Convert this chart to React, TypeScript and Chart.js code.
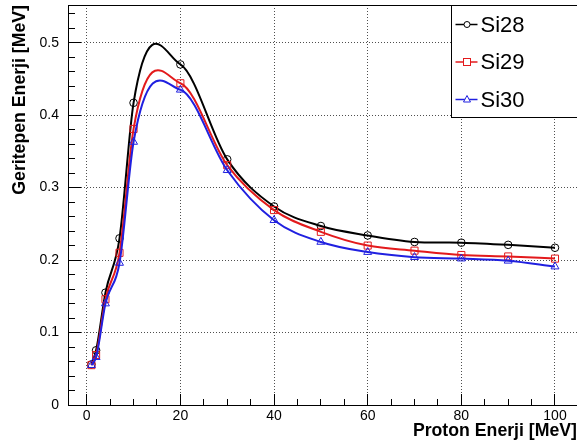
import React, { useEffect, useRef } from 'react';
import { Chart, registerables } from 'chart.js';

Chart.register(...registerables);

// ---------- data ----------
const X_MEV = [1, 2, 4, 7, 10, 20, 30, 40, 50, 60, 70, 80, 90, 100];
const SI28 = [0.056, 0.0755, 0.155, 0.230, 0.417, 0.470, 0.339, 0.274, 0.247, 0.234, 0.225, 0.224, 0.221, 0.217];
const SI29 = [0.055, 0.069, 0.146, 0.210, 0.381, 0.444, 0.331, 0.269, 0.239, 0.220, 0.213, 0.207, 0.205, 0.202];
const SI30 = [0.055, 0.066, 0.140, 0.196, 0.363, 0.435, 0.324, 0.255, 0.225, 0.211, 0.204, 0.202, 0.199, 0.191];
const SERIES_LABELS = ['Si28', 'Si29', 'Si30'];

const X_MAJOR_TICKS = [0, 20, 40, 60, 80, 100];
const X_TICK_LABELS = ['0', '20', '40', '60', '80', '100'];
const Y_MAJOR_TICKS = [0, 0.1, 0.2, 0.3, 0.4, 0.5];
const Y_TICK_LABELS = ['0', '0.1', '0.2', '0.3', '0.4', '0.5'];
const X_MINOR_STEP = 5;
const Y_MINOR_STEP = 0.02;

const X_TITLE = 'Proton Enerji [MeV]';
const Y_TITLE = 'Geritepen Enerji [MeV]';

const X_MIN = -4;
const X_MAX = 104.7;
const Y_MIN = 0;
const Y_MAX = 0.552;

// ---------- styles ----------
const FONT = "'Liberation Sans', Arial, Helvetica, sans-serif";
const COLORS = ['#000000', '#e31a1c', '#2020e0'];
const POINT_STYLES = ['circle', 'rect', 'triangle'];
const POINT_RADII = [3.8, 5, 4.6];
const SMOOTH_MIX = 0.7; // weight of 3-point (parabolic) slope vs Catmull-Rom slope

function minorTicks(min: number, max: number, step: number) {
  const out: number[] = [];
  const start = Math.ceil(min / step - 1e-9);
  for (let k = start; k * step <= max + 1e-9; k++) out.push(+(k * step).toFixed(6));
  return out;
}

// slopes dy/dx at each knot (data space) for a smooth Hermite curve
function curveSlopes(xs: number[], ys: number[]) {
  const n = xs.length;
  const h: number[] = [];
  const d: number[] = [];
  for (let i = 0; i < n - 1; i++) {
    h.push(xs[i + 1] - xs[i]);
    d.push((ys[i + 1] - ys[i]) / h[i]);
  }
  const m: number[] = [];
  for (let i = 0; i < n; i++) {
    if (i === 0) { m.push(d[0]); continue; }
    if (i === n - 1) { m.push(d[n - 2]); continue; }
    const parab = (h[i - 1] * d[i] + h[i] * d[i - 1]) / (h[i - 1] + h[i]);
    const cr = (ys[i + 1] - ys[i - 1]) / (xs[i + 1] - xs[i - 1]);
    m.push(SMOOTH_MIX * parab + (1 - SMOOTH_MIX) * cr);
  }
  return m;
}

const splinePlugin = {
  id: 'xSpline',
  beforeDatasetsDraw(chart: any) {
    chart.data.datasets.forEach((ds: any, di: number) => {
      const meta = chart.getDatasetMeta(di);
      const line = meta.dataset;
      if (!line) return;
      if (typeof line.updateControlPoints === 'function') line.updateControlPoints(chart.chartArea, 'x');
      const pts = meta.data;
      const xs = ds.data.map((p: any) => p.x);
      const ys = ds.data.map((p: any) => p.y);
      const m = curveSlopes(xs, ys);
      const xS = meta.xScale, yS = meta.yScale;
      const n = xs.length;
      for (let i = 0; i < n; i++) {
        const p = pts[i];
        if (i < n - 1) {
          const hh = xs[i + 1] - xs[i];
          p.cp2x = xS.getPixelForValue(xs[i] + hh / 3);
          p.cp2y = yS.getPixelForValue(ys[i] + (m[i] * hh) / 3);
        } else { p.cp2x = p.x; p.cp2y = p.y; }
        if (i > 0) {
          const hh = xs[i] - xs[i - 1];
          p.cp1x = xS.getPixelForValue(xs[i] - hh / 3);
          p.cp1y = yS.getPixelForValue(ys[i] - (m[i] * hh) / 3);
        } else { p.cp1x = p.x; p.cp1y = p.y; }
      }
      line._pointsUpdated = true;
      line._path = undefined;
    });
  },
};

const framePlugin = {
  id: 'frameLegend',
  afterDraw(chart: any) {
    const { ctx, chartArea } = chart;
    ctx.save();
    ctx.strokeStyle = '#000';
    ctx.lineWidth = 1;
    ctx.beginPath();
    ctx.moveTo(chartArea.left, Math.round(chartArea.top) + 0.5);
    ctx.lineTo(chartArea.right, Math.round(chartArea.top) + 0.5);
    ctx.stroke();

    // legend box
    const bx = Math.round(chartArea.right - 126) + 0.5;
    const by = Math.round(chartArea.top) + 0.5;
    const bw = 140;
    const bh = 112;
    ctx.fillStyle = '#ffffff';
    ctx.fillRect(bx, by, bw, bh);
    ctx.strokeRect(bx, by, bw, bh);

    chart.data.datasets.forEach((ds: any, i: number) => {
      const cy = by + 19 + i * 37.5;
      ctx.strokeStyle = ds.borderColor;
      ctx.lineWidth = 1.5;
      ctx.beginPath();
      ctx.moveTo(bx + 4, cy);
      ctx.lineTo(bx + 26, cy);
      ctx.stroke();
      ctx.save();
      ctx.fillStyle = '#ffffff';
      ctx.lineWidth = 1;
      ctx.strokeStyle = ds.borderColor;
      const mx = bx + 15.5;
      if (ds.pointStyle === 'circle') {
        ctx.beginPath(); ctx.arc(mx, cy, 3, 0, Math.PI * 2); ctx.fill(); ctx.stroke();
      } else if (ds.pointStyle === 'rect') {
        ctx.fillRect(mx - 3.5, cy - 3.5, 7, 7); ctx.strokeRect(mx - 3.5, cy - 3.5, 7, 7);
      } else {
        ctx.beginPath(); ctx.moveTo(mx, cy - 4); ctx.lineTo(mx + 3.5, cy + 2.5); ctx.lineTo(mx - 3.5, cy + 2.5); ctx.closePath(); ctx.fill(); ctx.stroke();
      }
      ctx.restore();
      ctx.fillStyle = '#000';
      ctx.font = `22px ${FONT}`;
      ctx.textAlign = 'left';
      ctx.textBaseline = 'middle';
      ctx.fillText(ds.label, bx + 29, cy + 1);
    });
    ctx.restore();
  },
};

export default function App() {
  const ref = useRef<HTMLCanvasElement>(null);
  useEffect(() => {
    document.body.style.margin = '0';
    const canvas = ref.current;
    if (!canvas) return;
    const seriesValues = [SI28, SI29, SI30];
    const datasets = seriesValues.map((vals, i) => ({
      label: SERIES_LABELS[i],
      data: X_MEV.map((x, k) => ({ x, y: vals[k] })),
      borderColor: COLORS[i],
      backgroundColor: 'rgba(0,0,0,0)',
      borderWidth: 2,
      tension: 0.4,
      pointStyle: POINT_STYLES[i],
      pointRadius: POINT_RADII[i],
      pointBorderWidth: 1,
      pointBorderColor: COLORS[i],
      pointBackgroundColor: 'rgba(0,0,0,0)',
      fill: false,
      order: 3 - i,
      xAxisID: 'x',
      yAxisID: 'y',
    }));
    const xMinor = minorTicks(X_MIN, X_MAX, X_MINOR_STEP);
    const yMinor = minorTicks(Y_MIN, Y_MAX, Y_MINOR_STEP);
    const noPadH = (s: any, hgt: number) => { s.height = hgt; s.paddingLeft = 0; s.paddingRight = 0; s.paddingTop = 0; s.paddingBottom = 0; };
    const noPadV = (s: any, w: number) => { s.width = w; s.paddingLeft = 0; s.paddingRight = 0; s.paddingTop = 0; s.paddingBottom = 0; };
    const chart = new Chart(canvas, {
      type: 'line',
      data: { datasets },
      plugins: [splinePlugin, framePlugin],
      options: {
        responsive: false,
        animation: false,
        devicePixelRatio: 1,
        layout: { autoPadding: false, padding: { top: 5, right: 0, left: 0, bottom: 0 } },
        plugins: { legend: { display: false }, tooltip: { enabled: false } },
        scales: {
          x: {
            type: 'linear', axis: 'x', position: 'bottom', weight: 1,
            min: X_MIN, max: X_MAX,
            afterBuildTicks: (s: any) => { s.ticks = X_MAJOR_TICKS.map((v) => ({ value: v })); },
            afterFit: (s: any) => noPadH(s, 43),
            grid: { color: 'rgba(60,60,60,0.9)', lineWidth: 1, drawTicks: true, tickLength: -11, tickColor: '#000', tickWidth: 1, tickBorderDash: [] },
            border: { display: true, color: '#000', width: 1, dash: [1, 2] },
            ticks: {
              color: '#000', padding: 14, maxRotation: 0, autoSkip: false,
              font: { family: FONT, size: 14 },
              callback: (v: any) => { const k = X_MAJOR_TICKS.indexOf(v); return k >= 0 ? X_TICK_LABELS[k] : ''; },
            },
            title: { display: true, text: X_TITLE, align: 'end', color: '#000', font: { family: FONT, size: 17.7, weight: 'bold' }, padding: { top: 0, bottom: 6 } },
          },
          xMinor: {
            type: 'linear', axis: 'x', position: 'bottom', weight: 0,
            min: X_MIN, max: X_MAX,
            afterBuildTicks: (s: any) => { s.ticks = xMinor.map((v) => ({ value: v })); },
            afterFit: (s: any) => noPadH(s, 0),
            grid: { drawOnChartArea: false, drawTicks: true, tickLength: -6, tickColor: '#000', tickWidth: 1 },
            border: { display: false },
            ticks: { display: false },
          },
          y: {
            type: 'linear', axis: 'y', position: 'left', weight: 1,
            min: Y_MIN, max: Y_MAX,
            afterBuildTicks: (s: any) => { s.ticks = Y_MAJOR_TICKS.map((v) => ({ value: v })); },
            afterFit: (s: any) => noPadV(s, 68),
            grid: { color: 'rgba(60,60,60,0.9)', lineWidth: 1, drawTicks: true, tickLength: -13, tickColor: '#000', tickWidth: 1, tickBorderDash: [] },
            border: { display: true, color: '#000', width: 1, dash: [1, 2] },
            ticks: {
              color: '#000', padding: 22, autoSkip: false,
              font: { family: FONT, size: 14 },
              callback: (v: any) => { const k = Y_MAJOR_TICKS.findIndex((t) => Math.abs(t - v) < 1e-9); return k >= 0 ? Y_TICK_LABELS[k] : ''; },
            },
            title: { display: true, text: Y_TITLE, align: 'end', color: '#000', font: { family: FONT, size: 17.7, weight: 'bold' }, padding: { top: 9, bottom: 0 } },
          },
          yMinor: {
            type: 'linear', axis: 'y', position: 'left', weight: 0,
            min: Y_MIN, max: Y_MAX,
            afterBuildTicks: (s: any) => { s.ticks = yMinor.map((v) => ({ value: v })); },
            afterFit: (s: any) => noPadV(s, 0),
            grid: { drawOnChartArea: false, drawTicks: true, tickLength: -7, tickColor: '#000', tickWidth: 1 },
            border: { display: false },
            ticks: { display: false },
          },
        },
      } as any,
    });
    return () => chart.destroy();
  }, []);
  return (
    <div style={{ width: 577, height: 448 }}>
      <canvas ref={ref} width={577} height={448} style={{ display: 'block', width: 577, height: 448 }} />
    </div>
  );
}
